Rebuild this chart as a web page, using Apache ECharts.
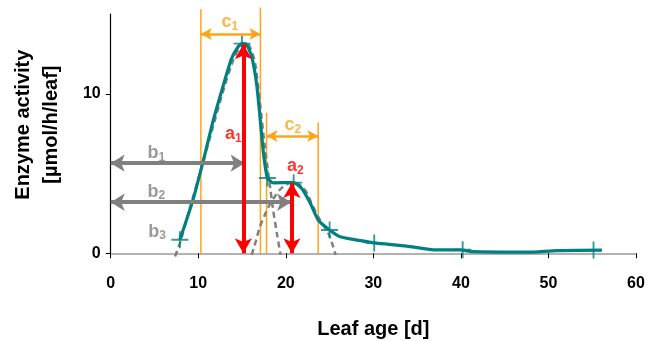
<!DOCTYPE html>
<html>
<head>
<meta charset="utf-8">
<script src="https://cdn.jsdelivr.net/npm/echarts@6/dist/echarts.min.js"></script>
<style>
html,body{margin:0;padding:0;background:#fff;}
#c{width:652px;height:341px;}
</style>
</head>
<body>
<div id="c"></div>
<script>
// ---- data ----
const xTicks = [0, 10, 20, 30, 40, 50, 60];
const yTicks = [0, 10];

// measured enzyme activity curve (leaf age [d], activity)
const curveX = [7.9, 9.4, 10.6, 11.7, 12.9, 13.8, 14.5, 15.0, 15.5, 16.1, 16.7, 17.45, 17.9, 18.6, 20.9, 21.8, 22.8, 23.7, 25.0, 26.2, 28.5, 30.1, 33.8, 36.9, 39.9, 41.4, 47.5, 51.0, 56.1];
const curveY = [0.85, 3.35, 5.86, 8.3, 10.6, 12.2, 12.9, 13.14, 13.1, 12.34, 10.46, 6.28, 4.72, 4.42, 4.43, 4.08, 3.14, 2.09, 1.46, 1.04, 0.8, 0.65, 0.45, 0.22, 0.21, 0.1, 0.07, 0.17, 0.2];

// sampled points (+ markers)
const sampleX = [7.9, 15.0, 17.9, 20.9, 25.0, 30.1, 40.2, 55.15];
const sampleY = [0.85, 13.14, 4.72, 4.43, 1.46, 0.65, 0.22, 0.2];

// fitted component peaks (dashed)
const peak1X = [7.35, 8, 9, 10, 11, 12, 13, 14, 14.8, 15.5, 16.0, 16.5, 17.05, 17.6, 18.2, 18.5, 19.0, 19.4];
const peak1Y = [-0.2, 0.8, 2.75, 4.65, 6.6, 8.55, 10.45, 12.1, 12.95, 13.2, 12.8, 11.9, 9.4, 6.7, 4.2, 2.9, 1.2, -0.1];
const peak2X = [16.1, 16.6, 17.0, 17.6, 18.2, 18.8, 19.35, 20.0, 20.7, 21.4, 22.0, 22.5, 22.96, 23.9, 24.87, 25.3, 25.7];
const peak2Y = [-0.1, 0.8, 1.6, 2.4, 3.1, 3.6, 4.0, 4.3, 4.45, 4.35, 4.1, 3.7, 3.1, 2.1, 1.25, 0.6, -0.1];

// a: peak heights (red arrows)
const aNames = ['1', '2'];
const aX = [15.15, 20.7];
const aTop = [13.1, 4.4];
const aLabelX = [14.0, 21.1];
const aLabelY = [7.45, 5.45];

// b: peak times (gray arrows) + b3 onset
const bNames = ['1', '2', '3'];
const bY = [5.65, 3.2];
const bEnd = [15.3, 20.6];
const bLabelX = [5.2, 5.2, 5.3];
const bLabelY = [6.28, 3.87, 1.36];

// c: peak widths (orange)
const cNames = ['1', '2'];
const cLeft = [10.3, 17.8];
const cRight = [17.1, 23.7];
const cArrowY = [13.75, 7.36];
const cLineTopL = [15.3, 8.8];
const cLineTopR = [15.4, 8.2];
const cLabelX = [13.6, 20.8];
const cLabelY = [14.5, 8.05];

// ---- build ----
const FONT = 'Liberation Sans, Arial, sans-serif';
const TEAL = '#008080', RED = '#ff0000', GRAY = '#808080', ORANGE = '#ffa31a';
const zip = (xs, ys) => xs.map((x, i) => [x, ys[i]]);
const plusPath = 'path://M-1,-0.11 L1,-0.11 L1,0.11 L-1,0.11 Z M-0.11,-1 L0.11,-1 L0.11,1 L-0.11,1 Z';

function arrowLine(x1, y1, x2, y2, color, width, size) {
  return [
    {coord: [x1, y1], symbol: 'arrow', symbolSize: size, lineStyle: {color, width, type: 'solid'}},
    {coord: [x2, y2], symbol: 'arrow', symbolSize: size}
  ];
}
function labelPoint(x, y, letter, sub, color) {
  return {value: [x, y], label: {formatter: '{m|' + letter + '}{s|' + sub + '}', rich: {
    m: {fontSize: 18, fontWeight: 'bold', color, fontFamily: FONT},
    s: {fontSize: 12, fontWeight: 'bold', color, fontFamily: FONT, padding: [9, 0, 0, 0]}
  }}};
}
function vLineSeries(x, top) {
  return {type: 'line', data: [[x, 0], [x, top]], clip: false, showSymbol: false, silent: true,
    lineStyle: {color: ORANGE, width: 1.5}, z: 2};
}

const orangeLineSeries = [];
cLeft.forEach((x, i) => {
  orangeLineSeries.push(vLineSeries(x, cLineTopL[i]));
  orangeLineSeries.push(vLineSeries(cRight[i], cLineTopR[i]));
});
const orangeArrows = cLeft.map((x, i) => arrowLine(x, cArrowY[i], cRight[i], cArrowY[i], ORANGE, 2.5, [9, 11]));
const grayArrows = bY.map((y, i) => arrowLine(0, y, bEnd[i], y, GRAY, 4, [13, 14]));
const redArrows = aX.map((x, i) => arrowLine(x, 0, x, aTop[i], RED, 4, [13, 15]));

const labels = [];
aNames.forEach((s, i) => labels.push(labelPoint(aLabelX[i], aLabelY[i], 'a', s, RED)));
bNames.forEach((s, i) => labels.push(labelPoint(bLabelX[i], bLabelY[i], 'b', s, GRAY)));
cNames.forEach((s, i) => labels.push(labelPoint(cLabelX[i], cLabelY[i], 'c', s, ORANGE)));

const chart = echarts.init(document.getElementById('c'), null, {renderer: 'canvas'});
chart.setOption({
  animation: false,
  backgroundColor: '#fff',
  grid: {left: 110.7, right: 16, top: 14, bottom: 87.7, containLabel: false, outerBoundsMode: 'none'},
  xAxis: {
    type: 'value', min: 0, max: 60, interval: 10,
    name: 'Leaf age [d]', nameLocation: 'middle', nameGap: 66,
    nameTextStyle: {fontSize: 20, fontWeight: 'bold', color: '#000', fontFamily: FONT},
    axisLine: {show: true, lineStyle: {color: '#999', width: 1.5}},
    axisTick: {show: true, length: 5, lineStyle: {color: '#000', width: 1}, customValues: xTicks},
    axisLabel: {fontSize: 16, fontWeight: 'bold', color: '#000', fontFamily: FONT, margin: 22, customValues: xTicks},
    splitLine: {show: false}
  },
  yAxis: {
    type: 'value', min: 0, max: 15, interval: 10,
    name: 'Enzyme activity\n[µmol/h/leaf]', nameLocation: 'middle', nameGap: 45,
    nameTextStyle: {fontSize: 20, fontWeight: 'bold', color: '#000', fontFamily: FONT, lineHeight: 28, padding: [0, 0, 0, 18]},
    axisLine: {show: true, lineStyle: {color: '#000', width: 1.2}},
    axisTick: {show: true, length: 5, lineStyle: {color: '#000', width: 1}, customValues: yTicks},
    axisLabel: {fontSize: 16, fontWeight: 'bold', color: '#000', fontFamily: FONT, margin: 10, customValues: yTicks},
    splitLine: {show: false}
  },
  series: orangeLineSeries.concat([
    {type: 'line', name: 'peak1', data: zip(peak1X, peak1Y), smooth: 0.3, clip: false, showSymbol: false,
     lineStyle: {color: GRAY, width: 2.5, type: [6, 4]}, z: 3},
    {type: 'line', name: 'peak2', data: zip(peak2X, peak2Y), smooth: 0.3, clip: false, showSymbol: false,
     lineStyle: {color: GRAY, width: 2.5, type: [6, 4]}, z: 3},
    {type: 'line', name: 'activity', data: zip(curveX, curveY), smooth: 0.2, showSymbol: false,
     lineStyle: {color: TEAL, width: 3.2}, z: 4},
    {type: 'scatter', name: 'samples', data: zip(sampleX, sampleY), symbol: plusPath, symbolSize: 17,
     itemStyle: {color: TEAL}, z: 5},
    {type: 'line', name: 'arrows', data: [], silent: true, z: 6,
     markLine: {silent: true, animation: false, label: {show: false}, z: 6,
       data: orangeArrows.concat(grayArrows).concat(redArrows)}},
    {type: 'scatter', name: 'labels', data: labels, symbolSize: 0, silent: true, z: 7,
     label: {show: true, position: 'inside'}}
  ])
});
</script>
</body>
</html>
